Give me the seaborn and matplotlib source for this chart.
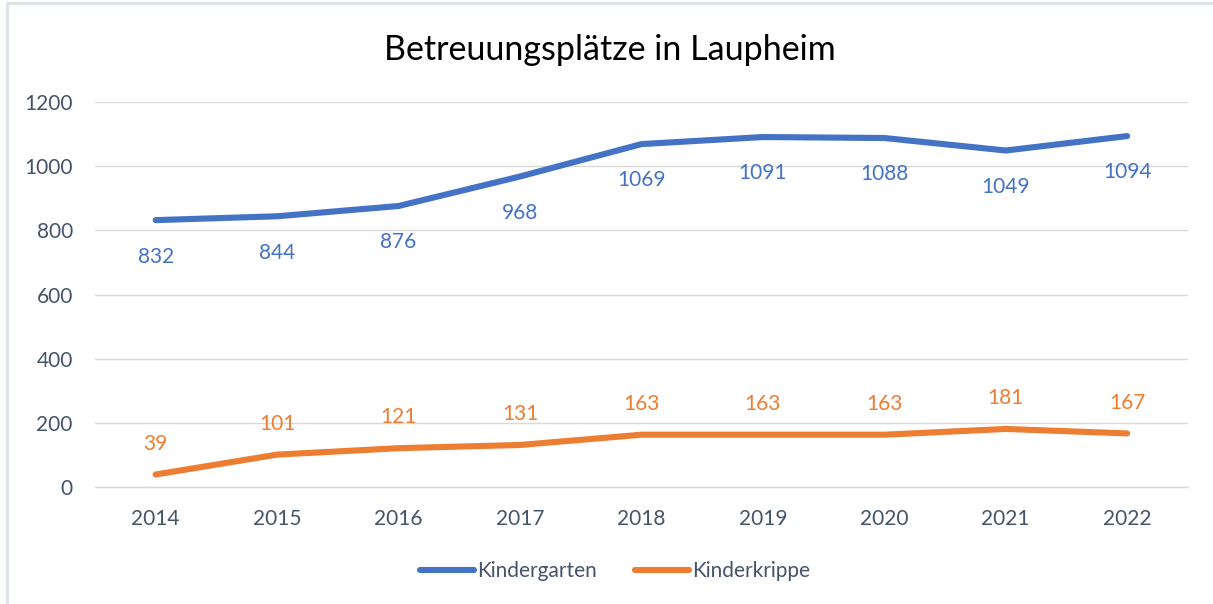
#!/usr/bin/env python
# -*- coding: utf-8 -*-

"""
Betreuungsplätze in Laupheim - line chart recreated with seaborn.
"""

import pandas as pd
import matplotlib
matplotlib.use("Agg")
import matplotlib.pyplot as plt
from matplotlib.lines import Line2D
import seaborn as sns

# Data
years = ["2014", "2015", "2016", "2017", "2018", "2019", "2020", "2021", "2022"]
kindergarten = [832, 844, 876, 968, 1069, 1091, 1088, 1049, 1094]
kinderkrippe = [39, 101, 121, 131, 163, 163, 163, 181, 167]
series_names = ["Kindergarten", "Kinderkrippe"]
colors = ["#4472C4", "#ED7D31"]

TEXT_COLOR = "#44546A"
GRID_COLOR = "#D9D9D9"
FS = 15


def build_frame():
    """Long-form table for seaborn."""
    rows = []
    for name, values in zip(series_names, [kindergarten, kinderkrippe]):
        for i, (year, val) in enumerate(zip(years, values)):
            rows.append({"pos": i, "Jahr": year, "Serie": name, "Wert": val})
    return pd.DataFrame(rows)


def main():
    sns.set_theme(style="white")
    plt.rcParams["font.family"] = ["Lato", "DejaVu Sans"]

    df = build_frame()

    fig = plt.figure(figsize=(12.13, 6.04), dpi=100)
    ax = fig.add_axes([0.0783, 0.1937, 0.9010, 0.6373])

    sns.lineplot(data=df, x="pos", y="Wert", hue="Serie", palette=colors,
                 linewidth=4.4, ax=ax, legend=False, sort=False)
    for line in ax.get_lines():
        line.set_solid_capstyle("round")
        line.set_solid_joinstyle("round")

    # data labels: below for Kindergarten, above for Kinderkrippe
    for x, v in zip(range(len(years)), kindergarten):
        ax.annotate(str(v), (x, v), xytext=(0, -19), textcoords="offset points",
                    ha="center", va="top", fontsize=FS, color=colors[0])
    for x, v in zip(range(len(years)), kinderkrippe):
        ax.annotate(str(v), (x, v), xytext=(0, 15), textcoords="offset points",
                    ha="center", va="bottom", fontsize=FS, color=colors[1])

    ax.set_xlim(-0.5, len(years) - 0.5)
    ax.set_ylim(0, 1200)
    ax.set_yticks(range(0, 1201, 200))
    ax.set_xticks(range(len(years)))
    ax.set_xticklabels(years)
    ax.set_xticks([i - 0.5 for i in range(len(years) + 1)], minor=True)
    ax.tick_params(axis="x", which="major", length=0, pad=16,
                   labelsize=FS, labelcolor=TEXT_COLOR)
    ax.tick_params(axis="x", which="minor", length=6, width=1, color=GRID_COLOR)
    ax.tick_params(axis="y", length=0, pad=16, labelsize=FS,
                   labelcolor=TEXT_COLOR)
    ax.set_xlabel("")
    ax.set_ylabel("")

    ax.yaxis.grid(True, color=GRID_COLOR, linewidth=1)
    ax.set_axisbelow(True)
    for side in ["top", "right", "left"]:
        ax.spines[side].set_visible(False)
    ax.spines["bottom"].set_color(GRID_COLOR)
    ax.spines["bottom"].set_linewidth(1)

    fig.text(0.503, 0.918, "Betreuungsplätze in Laupheim", ha="center",
             va="center", fontsize=24.5, color="black")

    handles = [Line2D([0], [0], color=c, linewidth=4.4, solid_capstyle="round")
               for c in colors]
    fig.legend(handles, series_names, loc="center", bbox_to_anchor=(0.507, 0.054),
               ncol=2, frameon=False, fontsize=FS, labelcolor=TEXT_COLOR,
               handlelength=2.6, handletextpad=0.15, columnspacing=1.8)

    # light border on left and top, as in the reference screenshot
    fig.add_artist(Line2D([0.0058, 0.0058], [0, 0.995], color="#DDE1E6",
                          linewidth=2, transform=fig.transFigure))
    fig.add_artist(Line2D([0.0058, 1], [0.995, 0.995], color="#DDE1E6",
                          linewidth=2, transform=fig.transFigure))

    fig.savefig("out.png", dpi=100)
    plt.close(fig)


if __name__ == "__main__":
    main()
